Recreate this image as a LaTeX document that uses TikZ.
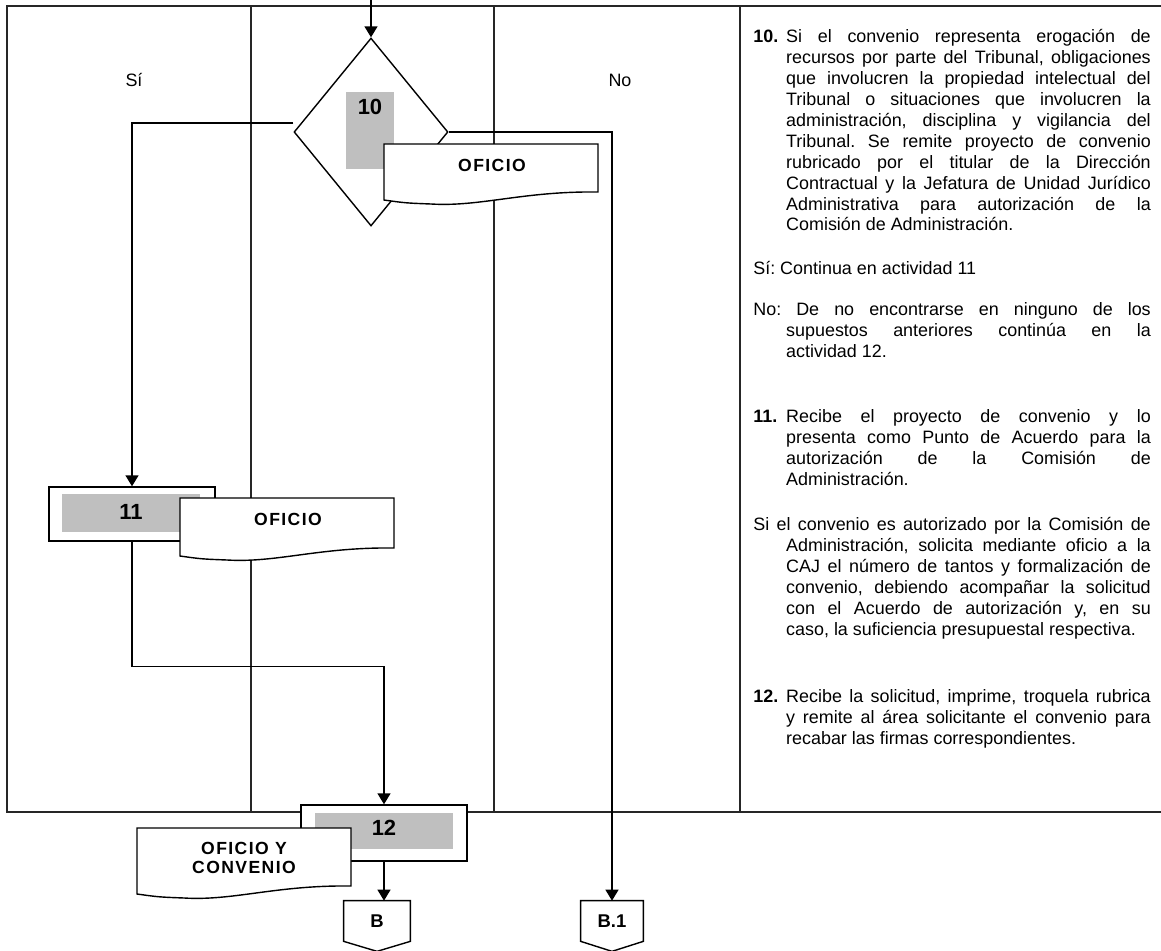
\documentclass[tikz,border=0pt]{standalone}
\usepackage{fontspec}
\setmainfont{Liberation Sans}
\usetikzlibrary{shapes.geometric,arrows.meta,calc}
\pgfdeclarelayer{bg}
\pgfsetlayers{bg,main}
\tikzset{
  ln/.style={line width=0.8pt},
  arr/.style={line width=0.8pt,-{Triangle[length=0.22cm,width=0.26cm]}},
  framel/.style={line width=1pt, black!85},
  stepbox/.style={draw, line width=0.8pt, fill=white, inner sep=0pt},
  graybox/.style={fill=gray!50, inner sep=0pt},
  num/.style={font=\fontsize{12.5}{14}\selectfont\bfseries},
  doctext/.style={font=\fontsize{10}{11.3}\selectfont\bfseries\addfontfeature{LetterSpace=8}, align=center, inner sep=0pt},
  para/.style={anchor=north west, inner sep=0pt, text width=226.2pt, align=justify, font=\fontsize{10.2}{11.9}\selectfont},
  lbl/.style={font=\fontsize{10.2}{11.9}\selectfont},
  conn/.style={inner sep=0pt, minimum height=0.8cm, font=\fontsize{10.5}{12}\selectfont\bfseries},
  docline/.style={line width=0.8pt, draw=black, fill=white},
}
\newcommand{\docshape}[4]{%
  \draw[docline] (#1,#3) -- (#2,#3) -- (#2,#4)
    .. controls ({#2-0.35*(#2-#1)},{#4-1}) and ({#1+0.45*(#2-#1)},{#4+15}) .. ({#1+0.22*(#2-#1)},{#4+12})
    .. controls ({#1+0.1*(#2-#1)},{#4+11}) .. (#1,{#4+8}) -- cycle;}
\newcommand{\hang}{\noindent\hangindent=18.7pt\hangafter=1\strut}
\tolerance=10000
\hbadness=10000
\hfuzz=20pt
\hyphenpenalty=10000
\frenchspacing
\begin{document}
\frenchspacing
\begin{tikzpicture}[x=0.02cm,y=-0.02cm]
\useasboundingbox (0,0) rectangle (1161,951);

% ---------- activity 10 ----------
\node[diamond, draw, line width=0.8pt, fill=white, inner sep=0pt, minimum width=3.08cm, minimum height=3.76cm] (d10) at (371,132) {};
\node[graybox, minimum width=0.96cm, minimum height=1.54cm] (g10) at (370,130.5) {};
\node[num] (n10) at (370,107) {10};
\docshape{384}{598}{144}{192}
\node[doctext] (o10) at (492,165) {OFICIO};

% ---------- activity 11 ----------
\node[stepbox, minimum width=3.32cm, minimum height=1.08cm] (b11) at (132,514) {};
\node[graybox, minimum width=2.76cm, minimum height=0.76cm] (g11) at (131,513) {};
\node[num] (n11) at (131,512) {11};
\docshape{180}{394}{498}{548}
\node[doctext] (o11) at (288,519) {OFICIO};

% ---------- activity 12 ----------
\node[stepbox, minimum width=3.32cm, minimum height=1.12cm] (b12) at (384,833) {};
\node[graybox, minimum width=2.76cm, minimum height=0.72cm] (g12) at (384,831) {};
\node[num] (n12) at (384,828) {12};
\docshape{137}{351}{828}{886}
\node[doctext] (o12) at (244,858) {OFICIO Y\\CONVENIO};

% ---------- connectors B and B.1 ----------
\node[conn, minimum width=1.32cm] (cB) at (377,921) {B};
\draw[ln] (cB.north west) -- (cB.north east) -- (cB.south east) -- ($(cB.south)+(0,10)$) -- (cB.south west) -- cycle;
\node[conn, minimum width=1.24cm] (cB1) at (612,921) {B.1};
\draw[ln] (cB1.north west) -- (cB1.north east) -- (cB1.south east) -- ($(cB1.south)+(0,10)$) -- (cB1.south west) -- cycle;

% ---------- lane labels ----------
\node[lbl] (si) at (134,80) {Sí};
\node[lbl] (no) at (620,80) {No};

% ---------- description column ----------
\node[para] (p10) at (753,27.8) {\frenchspacing\hang\makebox[18.7pt][l]{\bfseries 10.}Si el convenio representa erogación de\linebreak
recursos por parte del Tribunal, obligaciones\linebreak
que involucren la propiedad intelectual del\linebreak
Tribunal o situaciones que involucren la\linebreak
administración, disciplina y vigilancia del\linebreak
Tribunal. Se remite proyecto de convenio\linebreak
rubricado por el titular de la Dirección\linebreak
Contractual y la Jefatura de Unidad Jurídico\linebreak
Administrativa para autorización de la\linebreak
Comisión de Administración.\par};

\node[para] (psi) at (753,259.8) {\frenchspacing\noindent\strut Sí: Continua en actividad 11\par};

\node[para] (pno) at (753,300.8) {\frenchspacing\hang No: De no encontrarse en ninguno de los\linebreak
supuestos anteriores continúa en la\linebreak
actividad 12.\par};

\node[para] (p11) at (753,407.8) {\frenchspacing\hang\makebox[18.7pt][l]{\bfseries 11.}Recibe el proyecto de convenio y lo\linebreak
presenta como Punto de Acuerdo para la\linebreak
autorización de la Comisión de\linebreak
Administración.\par};

\node[para] (psi2) at (753,515.8) {\frenchspacing\hang Si el convenio es autorizado por la Comisión de\linebreak
Administración, solicita mediante oficio a la\linebreak
CAJ el número de tantos y formalización de\linebreak
convenio, debiendo acompañar la solicitud\linebreak
con el Acuerdo de autorización y, en su\linebreak
caso, la suficiencia presupuestal respectiva.\par};

\node[para] (p12) at (753,687.8) {\frenchspacing\hang\makebox[18.7pt][l]{\bfseries 12.}Recibe la solicitud, imprime, troquela rubrica\linebreak
y remite al área solicitante el convenio para\linebreak
recabar las firmas correspondientes.\par};

\coordinate (top) at (371,0);

% ---------- frame and connectors (behind) ----------
\begin{pgfonlayer}{bg}
\draw[framel] (1161,6) -- (7,6) -- (7,812) -- (1161,812);
\draw[framel] (251,6) -- (251,812);
\draw[framel] (494,6) -- (494,812);
\draw[framel] (740,6) -- (740,812);
\draw[arr] (top) -- (d10.north);
\draw[arr] ($(d10.west)+(0,-9)$) -| (b11.north);
\draw[arr] (d10.east) -| (cB1.north);
\draw[arr] (b11.south) -- ++(0,125) -| (b12.north);
\draw[arr] (b12.south) -- (b12.south |- cB.north);
\end{pgfonlayer}
\end{tikzpicture}
\end{document}
